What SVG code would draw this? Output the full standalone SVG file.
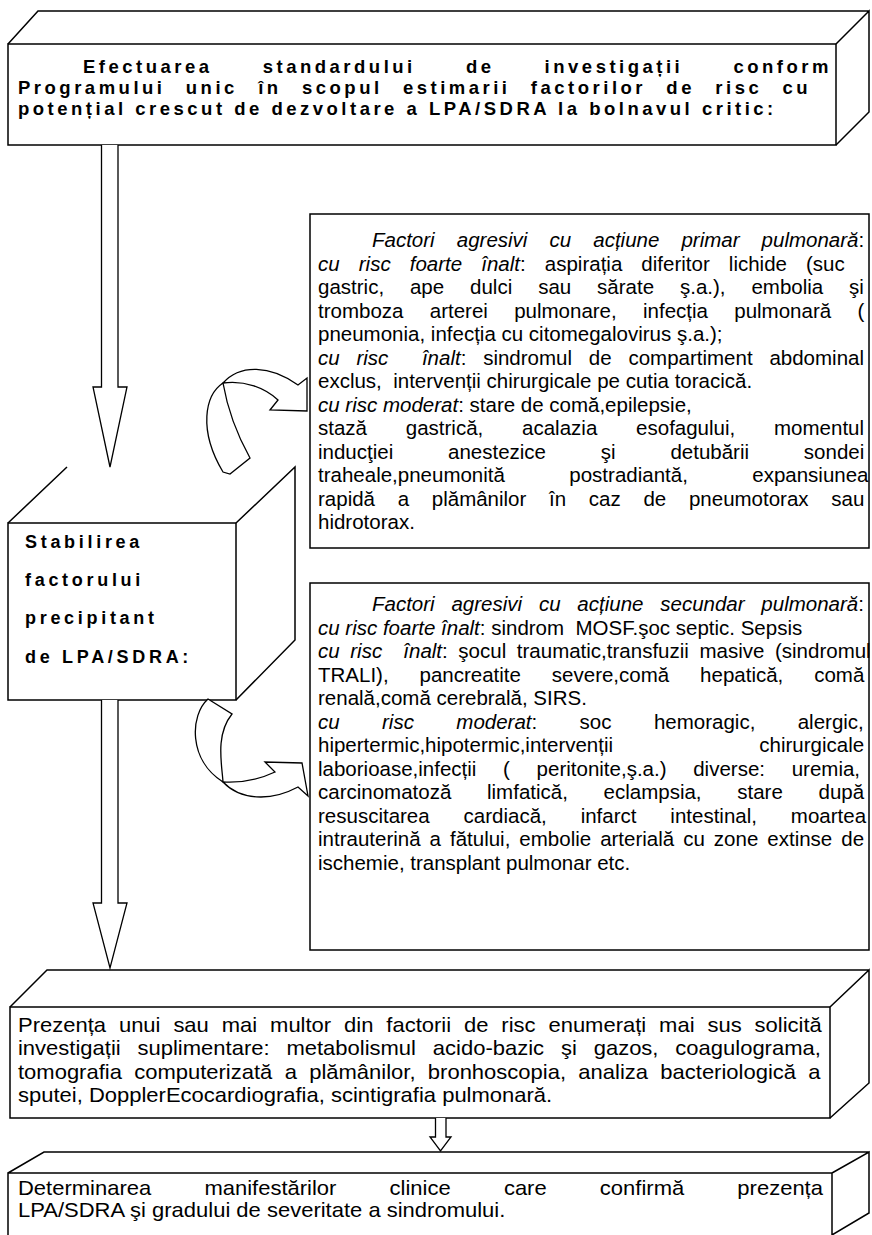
<svg xmlns="http://www.w3.org/2000/svg" width="872" height="1235" viewBox="0 0 872 1235">
<style>
.ln{fill:none;stroke:#000;stroke-width:1.5}
.ar{fill:#fff;stroke:#000;stroke-width:1.3;stroke-linejoin:miter}
.t{font-family:"Liberation Sans",Arial,sans-serif;font-size:20.5px;fill:#000}
.tb{font-family:"Liberation Sans",Arial,sans-serif;font-size:18.5px;font-weight:bold;letter-spacing:3.5px;fill:#000}
.tc{font-family:"Liberation Sans",Arial,sans-serif;font-size:18px;font-weight:bold;letter-spacing:3.7px;fill:#000}
.tl{font-family:"Liberation Sans",Arial,sans-serif;font-size:20px;fill:#000}
.i{font-style:italic}
</style>
<rect width="872" height="1235" fill="#fff"/>

<g id="start">
<rect x="8" y="44" width="828" height="101" class="ln"/>
<path class="ln" d="M8,44 L38,11 L869,11 M836,44 L869,11 L869,112 L836,145"/>
<text class="tb" x="83" y="73" style="word-spacing:41.5px">Efectuarea standardului de investigații conform</text>
<text class="tb" x="18" y="94" style="word-spacing:11.7px">Programului unic în scopul estimarii factorilor de risc cu</text>
<text class="tb" x="18" y="115">potențial crescut de dezvoltare a LPA/SDRA la bolnavul critic:</text>
</g>

<g id="precipitant">
<rect x="8" y="523" width="228" height="177" class="ln"/>
<path class="ln" d="M8,523 L67,467 M236,523 L295,467 L295,640 L236,700"/>
<text class="tc" x="25" y="548">Stabilirea</text>
<text class="tc" x="25" y="586">factorului</text>
<text class="tc" x="25" y="624">precipitant</text>
<text class="tc" x="25" y="663">de LPA/SDRA:</text>
</g>

<g id="primary">
<rect x="310" y="214" width="559" height="334" class="ln"/>
<text class="t" x="372" y="247" style="word-spacing:16.4px"><tspan class="i">Factori agresivi cu acțiune primar pulmonară</tspan>:</text>
<text class="t" x="318" y="270.5" style="word-spacing:13.4px"><tspan class="i">cu risc foarte înalt</tspan>: aspirația diferitor lichide (suc</text>
<text class="t" x="318" y="294" style="word-spacing:20.2px">gastric, ape dulci sau sărate ş.a.), embolia şi</text>
<text class="t" x="318" y="317.5" style="word-spacing:20.6px">tromboza arterei pulmonare, infecția pulmonară (</text>
<text class="t" x="318" y="341">pneumonia, infecția cu citomegalovirus ş.a.);</text>
<text class="t" x="318" y="364.5" xml:space="preserve" style="word-spacing:11.1px"><tspan class="i">cu risc  înalt</tspan>: sindromul de compartiment abdominal</text>
<text class="t" x="318" y="388" xml:space="preserve">exclus,  intervenții chirurgicale pe cutia toracică.</text>
<text class="t" x="318" y="411.5"><tspan class="i">cu risc moderat</tspan>: stare de comă,epilepsie,</text>
<text class="t" x="318" y="435" style="word-spacing:33.1px">stază gastrică, acalazia esofagului, momentul</text>
<text class="t" x="318" y="458.5" style="word-spacing:49.1px">inducţiei anestezice şi detubării sondei</text>
<text class="t" x="318" y="482" style="word-spacing:58.7px">traheale,pneumonită postradiantă, expansiunea</text>
<text class="t" x="318" y="505.5" style="word-spacing:17px">rapidă a plămânilor în caz de pneumotorax sau</text>
<text class="t" x="318" y="529">hidrotorax.</text>
</g>

<g id="secondary">
<rect x="310" y="583" width="559" height="367" class="ln"/>
<text class="t" x="372" y="611" style="word-spacing:11.1px"><tspan class="i">Factori agresivi cu acțiune secundar pulmonară</tspan>:</text>
<text class="t" x="318" y="634.5" xml:space="preserve"><tspan class="i">cu risc foarte înalt</tspan>: sindrom  MOSF.şoc septic. Sepsis</text>
<text class="t" x="318" y="658" xml:space="preserve" style="word-spacing:4.9px"><tspan class="i">cu risc  înalt</tspan>: şocul traumatic,transfuzii masive (sindromul</text>
<text class="t" x="318" y="681.5" style="word-spacing:25.2px">TRALI), pancreatite severe,comă hepatică, comă</text>
<text class="t" x="318" y="705">renală,comă cerebrală, SIRS.</text>
<text class="t" x="318" y="728.5" style="word-spacing:36.7px"><tspan class="i">cu risc moderat</tspan>: soc hemoragic, alergic,</text>
<text class="t" x="318" y="752" style="word-spacing:140.5px">hipertermic,hipotermic,intervenții chirurgicale</text>
<text class="t" x="318" y="775.5" style="word-spacing:21px">laborioase,infecții ( peritonite,ş.a.) diverse: uremia,</text>
<text class="t" x="318" y="799" style="word-spacing:30px">carcinomatoză limfatică, eclampsia, stare după</text>
<text class="t" x="318" y="822.5" style="word-spacing:28.2px">resuscitarea cardiacă, infarct intestinal, moartea</text>
<text class="t" x="318" y="846" style="word-spacing:3.3px">intrauterină a fătului, embolie arterială cu zone extinse de</text>
<text class="t" x="318" y="869.5">ischemie, transplant pulmonar etc.</text>
</g>

<g id="investigations">
<rect x="10" y="1007" width="820" height="111" class="ln"/>
<path class="ln" d="M10,1007 L47,970 L869,970 M830,1007 L869,970 L869,1083 L830,1118"/>
<g transform="scale(1.1,1)">
<text class="tl" x="16.364" y="1032" style="word-spacing:6.17px">Prezența unui sau mai multor din factorii de risc enumerați mai sus solicită</text>
<text class="tl" x="16.364" y="1055.5" style="word-spacing:9.78px">investigații suplimentare: metabolismul acido-bazic şi gazos, coagulograma,</text>
<text class="tl" x="16.364" y="1079" style="word-spacing:5.64px">tomografia computerizată a plămânilor, bronhoscopia, analiza bacteriologică a</text>
<text class="tl" x="16.364" y="1102.5">sputei, DopplerEcocardiografia, scintigrafia pulmonară.</text>
</g>
</g>

<g id="diagnosis">
<path class="ln" d="M8,1236 L8,1173 L832,1173 L832,1236 M8,1173 L44,1152 L869,1152 M832,1173 L869,1152 L869,1213 L832,1235"/>
<g transform="scale(1.1,1)">
<text class="tl" x="16.364" y="1195" style="word-spacing:42.8px">Determinarea manifestărilor clinice care confirmă prezența</text>
<text class="tl" x="16.364" y="1217">LPA/SDRA şi gradului de severitate a sindromului.</text>
</g>
</g>

<g id="connectors">
<path class="ar" d="M101.5,145 V387 H93 L110,467 L127,387 H118 V145"/>
<path class="ar" d="M101.5,700 V903 H93 L110,968 L127,903 H118 V700"/>
<path class="ar" d="M435.5,1118 V1137 H430 L440.5,1151 L451,1137 H446 V1118"/>
<path class="ar" d="M223,383 C205,395 198,430 223,472 L230,474 L250,458 C240,440 228,412 223,383 Z"/>
<path class="ar" d="M223,383 C240,364 270,365 298,385 L307,378 L307,411 L270,410 L278,400 C265,388 245,380 223,383 Z"/>
<path class="ar" d="M208,699 C190,715 188,760 223,782 C222,765 215,735 232,714 Z"/>
<path class="ar" d="M223,782 C240,800 270,802 298,787 L308,796 L302,763 L265,762 L275,772 C258,780 240,783 223,782 Z"/>
</g>
</svg>
